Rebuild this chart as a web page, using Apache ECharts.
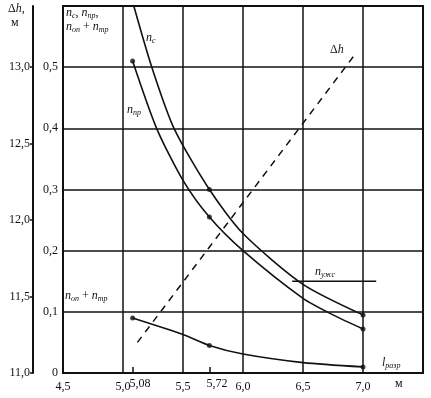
<!DOCTYPE html>
<html>
<head>
<meta charset="utf-8">
<script src="https://cdn.jsdelivr.net/npm/echarts@6/dist/echarts.min.js"></script>
<style>
  html, body { margin: 0; padding: 0; background: #fff; }
  #chart { width: 431px; height: 398px; }
</style>
</head>
<body>
<div id="chart"></div>
<script>
// n_c, n_пр, n_оп + n_тр vs l_разр, Δh on outer axis
const xNc = [5.09, 5.24, 5.425, 5.72, 6.0, 6.5, 7.0];
const nC = [0.60, 0.50, 0.40, 0.30, 0.228, 0.145, 0.095];
const xNpr = [5.08, 5.28, 5.5, 5.72, 6.0, 6.5, 6.75, 7.0];
const nPr = [0.51, 0.40, 0.315, 0.255, 0.20, 0.122, 0.095, 0.072];
const xNop = [5.08, 5.5, 5.72, 6.0, 6.5, 7.0];
const nOp = [0.09, 0.063, 0.045, 0.031, 0.017, 0.01];
const xDh = [5.12, 6.93];
const dh = [11.2, 13.08];
const xNusk = [6.41, 7.11];
const nUsk = [0.15, 0.15];
const markedX = [5.08, 5.72, 7.0];
const extraTicks = [5.08, 5.72];

const FONT = "Liberation Serif";
const comma = (v, d) => v.toFixed(d).replace(".", ",");
const pairs = (xs, ys) => xs.map((x, i) => [x, ys[i]]);
const marks = (xs, ys) => pairs(xs, ys).filter((p) => markedX.indexOf(p[0]) >= 0);

const rich = {
  i: { fontFamily: FONT, fontStyle: "italic", fontSize: 12, color: "#111", lineHeight: 14, verticalAlign: "middle" },
  s: { fontFamily: FONT, fontStyle: "italic", fontSize: 8, color: "#111", lineHeight: 14, verticalAlign: "bottom" },
  t: { fontFamily: FONT, fontSize: 12, color: "#111", lineHeight: 14, verticalAlign: "middle" },
};
function label(x, y, text) {
  return { type: "text", left: x, top: y, style: { text: text, rich: rich, font: "12px " + FONT, fill: "#111" } };
}

const chart = echarts.init(document.getElementById("chart"));
const lineStyle = { color: "#111", width: 1.6 };
function curve(xs, ys) {
  return {
    type: "line", data: pairs(xs, ys), smooth: 0.25,
    showSymbol: false, lineStyle: lineStyle, animation: false,
  };
}
function dots(xs, ys) {
  return {
    type: "scatter", data: marks(xs, ys), symbolSize: 5,
    itemStyle: { color: "#111" }, animation: false,
  };
}

chart.setOption({
  backgroundColor: "#fff",
  grid: { left: 63, right: 8, top: 6, bottom: 25, show: true, borderColor: "#111", borderWidth: 2 },
  xAxis: [
    {
      type: "value", min: 4.5, max: 7.5, interval: 0.5,
      axisLine: { lineStyle: { color: "#111", width: 2 } },
      axisTick: { show: false },
      splitLine: { lineStyle: { color: "#111", width: 1.5 } },
      axisLabel: {
        fontFamily: FONT, fontSize: 12, color: "#111", margin: 8,
        formatter: (v) => (v >= 7.5 ? "" : comma(v, 1)),
      },
    },
    {
      type: "value", min: 4.5, max: 7.5, position: "bottom",
      axisLine: { show: false },
      splitLine: { show: false },
      axisTick: { show: true, inside: true, length: 6, customValues: extraTicks, lineStyle: { color: "#111", width: 1.5 } },
      axisLabel: {
        customValues: extraTicks, fontFamily: FONT, fontSize: 12, color: "#111",
        margin: 5, align: "left", padding: [0, 0, 0, -3],
        formatter: (v) => comma(v, 2),
      },
    },
  ],
  yAxis: [
    {
      type: "value", min: 0, max: 0.6, interval: 0.1, position: "left",
      axisLine: { show: true, lineStyle: { color: "#111", width: 2 } },
      axisTick: { show: false },
      splitLine: { lineStyle: { color: "#111", width: 1.5 } },
      axisLabel: {
        fontFamily: FONT, fontSize: 12, color: "#111", margin: 5,
        formatter: (v) => (v === 0 ? "0" : v >= 0.6 ? "" : comma(v, 1)),
      },
    },
    {
      type: "value", min: 11, max: 13.4, interval: 0.5, position: "left", offset: 30,
      axisLine: { show: true, lineStyle: { color: "#111", width: 2 } },
      axisTick: { show: true, length: 3, lineStyle: { color: "#111", width: 1.5 } },
      splitLine: { show: false },
      axisLabel: {
        fontFamily: FONT, fontSize: 12, color: "#111", margin: 3, showMaxLabel: false,
        formatter: (v) => (v > 13.2 ? "" : comma(v, 1)),
      },
    },
  ],
  series: [
    curve(xNc, nC),
    curve(xNpr, nPr),
    curve(xNop, nOp),
    {
      type: "line", data: pairs(xDh, dh), yAxisIndex: 1, showSymbol: false,
      lineStyle: { color: "#111", width: 1.5, type: [7, 6] }, animation: false,
    },
    {
      type: "line", data: pairs(xNusk, nUsk), showSymbol: false,
      lineStyle: lineStyle, animation: false,
    },
    dots(xNc, nC),
    dots(xNpr, nPr),
    dots(xNop, nOp),
  ],
  graphic: [
    label(8, 3, "{t|Δ}{i|h}{t|,}\n{t| м}"),
    label(66, 7, "{i|n}{s|c}{t|, }{i|n}{s|пр}{t|,}\n{i|n}{s|оп}{t| + }{i|n}{s|тр}"),
    label(146, 32, "{i|n}{s|c}"),
    label(127, 104, "{i|n}{s|пр}"),
    label(330, 44, "{t|Δ}{i|h}"),
    label(315, 266, "{i|n}{s|ужс}"),
    label(65, 290, "{i|n}{s|оп}{t| + }{i|n}{s|тр}"),
    label(382, 357, "{i|l}{s|разр}"),
    label(395, 378, "{t|м}"),
  ],
});
</script>
</body>
</html>
